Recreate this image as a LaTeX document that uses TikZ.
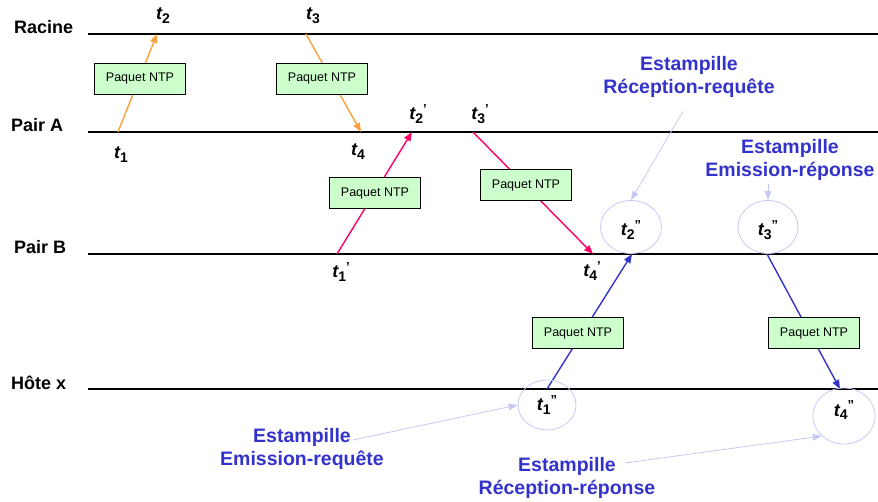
\documentclass[tikz,border=0pt]{standalone}
\usepackage{fontspec}
\setmainfont{Liberation Sans}
\usetikzlibrary{arrows.meta}
\usetikzlibrary{shapes.geometric}
\definecolor{orangeNTP}{RGB}{250,160,60}
\definecolor{pinkNTP}{RGB}{255,0,102}
\definecolor{blueNTP}{RGB}{51,51,204}
\definecolor{lavNTP}{RGB}{200,200,245}
\definecolor{greenNTP}{RGB}{204,255,204}
% timestamp: t, big subscript, little tick
\newcommand{\tev}[2]{t\raisebox{-0.22em}{\fontsize{14}{14}\selectfont\upshape #1}%
  \raisebox{0.35em}{\fontsize{13}{13}\selectfont\upshape #2}}
\tikzset{
  level/.style={anchor=base west, inner sep=0pt, font=\fontsize{18}{20}\selectfont\bfseries},
  paquet/.style={draw=black, fill=greenNTP, line width=1pt, minimum width=91pt,
    minimum height=31pt, inner sep=0pt, font=\fontsize{12.5}{14}\selectfont},
  tlabel/.style={font=\fontsize{18}{20}\selectfont\bfseries\itshape},
  ring/.style={shape=ellipse, draw=lavNTP, line width=0.8pt, inner sep=0pt,
    font=\fontsize{18}{20}\selectfont\bfseries\itshape},
  stamp/.style={align=center, text=blueNTP, font=\fontsize{19.5}{23.5}\selectfont\bfseries},
  msg/.style={line width=1.4pt, -{Triangle[length=9pt,width=7pt]}},
  hint/.style={draw=lavNTP, line width=0.8pt, -{Triangle[length=9pt,width=6.5pt]}}
}
\begin{document}
\begin{tikzpicture}[x=1pt,y=-1pt]
\useasboundingbox (0,0) rectangle (878,502);
% time lines
\foreach \name/\lx/\ly in {Racine/14/34, Pair A/11/132, Pair B/14/254, H\^ote x/11/389} {
  \node[level] at (\lx,\ly) {\name};
  \draw[line width=1.4pt] (88,\ly) -- (878,\ly);
}
% events on the lines
\coordinate (rA1) at (118,132);
\coordinate (rR2) at (157,34);
\coordinate (rR3) at (306,34);
\coordinate (rA4) at (361,132);
\coordinate (pB1) at (337,254);
\coordinate (pA2) at (412,132);
\coordinate (pA3) at (473,132);
\coordinate (pB4) at (593,254);
\coordinate (bH1) at (547,389);
\coordinate (bB2) at (632,254);
\coordinate (bB3) at (767,254);
\coordinate (bH4) at (840,389);
% messages
\draw[msg, orangeNTP] (rA1) -- (rR2);
\draw[msg, orangeNTP] (rR3) -- (rA4);
\draw[msg, pinkNTP] (pB1) -- (pA2);
\draw[msg, pinkNTP] (pA3) -- (pB4);
\draw[msg, blueNTP] (bH1) -- (bB2);
\draw[msg, blueNTP] (bB3) -- (bH4);
\node[paquet] (P1) at (140,79) {Paquet NTP};
\node[paquet] (P2) at (322,79) {Paquet NTP};
\node[paquet] (P3) at (375,193) {Paquet NTP};
\node[paquet] (P4) at (526,185) {Paquet NTP};
\node[paquet] (P5) at (578,333) {Paquet NTP};
\node[paquet] (P6) at (814,333) {Paquet NTP};
% timestamps
\node[tlabel] (T1) at (121,155) {\tev{1}{}};
\node[tlabel] (T2) at (163,16) {\tev{2}{}};
\node[tlabel] (T3) at (313,16) {\tev{3}{}};
\node[tlabel] (T4) at (358,152) {\tev{4}{}};
\node[tlabel] (T1p) at (341,272) {\tev{1}{'}};
\node[tlabel] (T2p) at (418,114) {\tev{2}{'}};
\node[tlabel] (T3p) at (480,114) {\tev{3}{'}};
\node[tlabel] (T4p) at (592,271) {\tev{4}{'}};
\node[ring, minimum width=58pt, minimum height=50pt] (R1) at (547,405) {\tev{1}{"}};
\node[ring, minimum width=61pt, minimum height=53pt, text height=17pt, text depth=0pt] (R2) at (631,227) {\tev{2}{"}};
\node[ring, minimum width=60pt, minimum height=53pt, text height=17pt, text depth=0pt] (R3) at (768,227) {\tev{3}{"}};
\node[ring, minimum width=62pt, minimum height=56pt, text height=6pt, text depth=6pt] (R4) at (844,416) {\tev{4}{"}};
% stamps
\node[stamp] (SRQ) at (689,77) {Estampille\\R\'eception-requ\^ete};
\node[stamp] (SEP) at (790,160) {Estampille\\Emission-r\'eponse};
\node[stamp] (SER) at (302,449) {Estampille\\Emission-requ\^ete};
\node[stamp] (SRR) at (567,478) {Estampille\\R\'eception-r\'eponse};
\coordinate (erStart) at (353,440);
\coordinate (rrStart) at (625,463);
\draw[hint] (SRQ.south) ++(-6,10) -- (R2.north);
\draw[hint] (SEP.south -| R3.north) -- (R3.north);
\draw[hint] (erStart) -- (R1.west);
\draw[hint] (rrStart) -- (R4.south west);
\end{tikzpicture}
\end{document}
